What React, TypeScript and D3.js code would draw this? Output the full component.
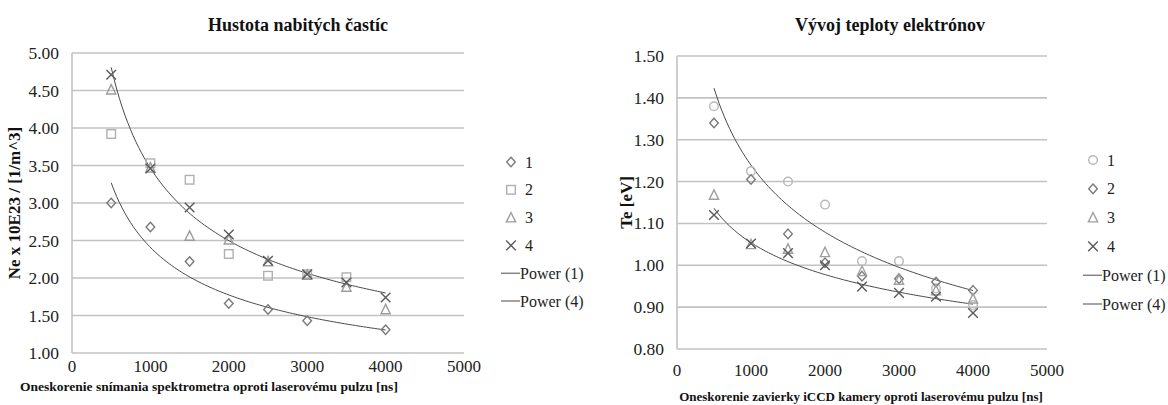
import React from "react";
import * as d3 from "d3";

const X_VALUES = [500, 1000, 1500, 2000, 2500, 3000, 3500, 4000];

// Left chart: Hustota nabitých častíc
const NE_TITLE = "Hustota nabitých častíc";
const NE_YLABEL = "Ne x 10E23 / [1/m^3]";
const NE_XLABEL = "Oneskorenie snímania spektrometra oproti laserovému pulzu [ns]";
const neS1 = [3.0, 2.68, 2.22, 1.66, 1.58, 1.43, null, 1.31];
const neS2 = [3.92, 3.53, 3.31, 2.32, 2.03, 2.05, 2.01, null];
const neS3 = [4.51, 3.47, 2.56, 2.51, 2.22, 2.04, 1.88, 1.58];
const neS4 = [4.71, 3.46, 2.94, 2.58, 2.23, 2.05, 1.94, 1.74];
const NE_YTICKS = [1.0, 1.5, 2.0, 2.5, 3.0, 3.5, 4.0, 4.5, 5.0];

// Right chart: Vývoj teploty elektrónov
const TE_TITLE = "Vývoj teploty elektrónov";
const TE_YLABEL = "Te [eV]";
const TE_XLABEL = "Oneskorenie zavierky iCCD kamery oproti laserovému pulzu [ns]";
const teS1 = [1.38, 1.225, 1.2, 1.145, 1.01, 1.01, 0.945, 0.905];
const teS2 = [1.34, 1.205, 1.075, 1.006, 0.974, 0.968, 0.96, 0.94];
const teS3 = [1.168, 1.05, 1.039, 1.031, 0.986, 0.965, 0.94, 0.92];
const teS4 = [1.12, 1.052, 1.029, 1.0, 0.949, 0.934, 0.925, 0.886];
const TE_YTICKS = [0.8, 0.9, 1.0, 1.1, 1.2, 1.3, 1.4, 1.5];

const X_TICKS = [0, 1000, 2000, 3000, 4000, 5000];
const SERIES_NAMES = ["1", "2", "3", "4"];
const TREND_NAMES = ["Power (1)", "Power (4)"];

const FONT = "'Liberation Serif', 'Times New Roman', serif";
const GRID = "#c2c2c2";
const TREND = "#4a4a4a";

type Shape = "diamond" | "square" | "triangle" | "x" | "circle";

function Marker({ shape, x, y, color }: { shape: Shape; x: number; y: number; color: string }) {
  const s = 4.3;
  const sw = 1.4;
  if (shape === "diamond")
    return <path d={`M${x},${y - s - 0.5}L${x + s},${y}L${x},${y + s + 0.5}L${x - s},${y}Z`} fill="none" stroke={color} strokeWidth={sw} />;
  if (shape === "square")
    return <rect x={x - s} y={y - s} width={2 * s} height={2 * s} fill="none" stroke={color} strokeWidth={sw} />;
  if (shape === "triangle")
    return <path d={`M${x},${y - s - 0.8}L${x + s + 0.3},${y + s}L${x - s - 0.3},${y + s}Z`} fill="none" stroke={color} strokeWidth={sw} />;
  if (shape === "circle")
    return <circle cx={x} cy={y} r={s} fill="none" stroke={color} strokeWidth={sw} />;
  return (
    <path d={`M${x - s - 0.5},${y - s - 0.5}L${x + s + 0.5},${y + s + 0.5}M${x + s + 0.5},${y - s - 0.5}L${x - s - 0.5},${y + s + 0.5}`} stroke={color} strokeWidth={sw} fill="none" />
  );
}

function powerFit(xs: number[], ys: (number | null)[]) {
  const pts = xs.map((x, i) => [x, ys[i]] as [number, number | null]).filter((p) => p[1] != null) as [number, number][];
  const lx = pts.map((p) => Math.log(p[0]));
  const ly = pts.map((p) => Math.log(p[1]));
  const mx = d3.mean(lx) as number;
  const my = d3.mean(ly) as number;
  let sxy = 0, sxx = 0;
  lx.forEach((v, i) => { sxy += (v - mx) * (ly[i] - my); sxx += (v - mx) * (v - mx); });
  const b = sxy / sxx;
  const a = Math.exp(my - b * mx);
  const x0 = d3.min(pts, (p) => p[0]) as number;
  const x1 = d3.max(pts, (p) => p[0]) as number;
  return d3.range(0, 101).map((i) => { const x = x0 + ((x1 - x0) * i) / 100; return [x, a * Math.pow(x, b)] as [number, number]; });
}

type ChartProps = {
  left: number; right: number; top: number; bottom: number;
  yDomain: [number, number]; yTicks: number[];
  series: { data: (number | null)[]; shape: Shape; color: string }[];
  trends: (number | null)[][];
  title: string; titleX: number;
  ylabel: string; ylabelX: number;
  xlabel: string; xlabelX: number; xlabelY: number; xlabelSize: number;
  xtickY: number;
  legendX: number; legendY: number; legendStep: number;
};

function Chart(p: ChartProps) {
  const x = d3.scaleLinear().domain([0, 5000]).range([p.left, p.right]);
  const y = d3.scaleLinear().domain(p.yDomain).range([p.bottom, p.top]);
  const line = d3.line<[number, number]>().x((d) => x(d[0])).y((d) => y(d[1]));
  const cy = (p.top + p.bottom) / 2;
  return (
    <g fontFamily={FONT}>
      <text x={p.titleX} y={31} textAnchor="middle" fontWeight="bold" fontSize={18} fill="#111">{p.title}</text>
      {p.yTicks.map((t) => (
        <g key={t}>
          <line x1={p.left} x2={p.right} y1={y(t)} y2={y(t)} stroke={GRID} strokeWidth={1.6} />
          <text x={p.left - 13} y={y(t) + 6} textAnchor="end" fontSize={17.5} fill="#222">{t.toFixed(2)}</text>
        </g>
      ))}
      <line x1={p.left} x2={p.left} y1={p.top} y2={p.bottom} stroke={GRID} strokeWidth={1.6} />
      {X_TICKS.map((t) => (
        <text key={t} x={x(t)} y={p.xtickY} textAnchor="middle" fontSize={17} fill="#222">{t}</text>
      ))}
      {p.trends.map((tr, i) => (
        <path key={i} d={line(powerFit(X_VALUES, tr)) || ""} fill="none" stroke={TREND} strokeWidth={1} />
      ))}
      {p.series.map((s, si) => (
        <g key={si}>
          {s.data.map((v, i) => (v == null ? null : <Marker key={i} shape={s.shape} x={x(X_VALUES[i])} y={y(v)} color={s.color} />))}
        </g>
      ))}
      <text transform={`translate(${p.ylabelX},${cy}) rotate(-90)`} textAnchor="middle" fontWeight="bold" fontSize={17} fill="#111">{p.ylabel}</text>
      <text x={p.xlabelX} y={p.xlabelY} textAnchor="middle" fontWeight="bold" fontSize={p.xlabelSize} fill="#111">{p.xlabel}</text>
      {p.series.map((s, i) => (
        <g key={"l" + i}>
          <Marker shape={s.shape} x={p.legendX} y={p.legendY + i * p.legendStep} color={s.color} />
          <text x={p.legendX + 14} y={p.legendY + i * p.legendStep + 5.5} fontSize={16} fill="#222">{SERIES_NAMES[i]}</text>
        </g>
      ))}
      {TREND_NAMES.map((n, i) => {
        const yy = p.legendY + (4 + i) * p.legendStep;
        return (
          <g key={"t" + i}>
            <line x1={p.legendX - 10} x2={p.legendX + 9} y1={yy} y2={yy} stroke={TREND} strokeWidth={1} />
            <text x={p.legendX + 9} y={yy + 5.5} fontSize={16} fill="#222">{n}</text>
          </g>
        );
      })}
    </g>
  );
}

export default function App() {
  return (
    <svg width={1168} height={405} style={{ position: "absolute", left: 0, top: 0, background: "#fff" }}>
      <Chart
        left={72} right={464} top={53} bottom={353}
        yDomain={[1, 5]} yTicks={NE_YTICKS}
        series={[
          { data: neS1, shape: "diamond", color: "#7a7a7a" },
          { data: neS2, shape: "square", color: "#b0b0b0" },
          { data: neS3, shape: "triangle", color: "#9c9c9c" },
          { data: neS4, shape: "x", color: "#5a5a5a" },
        ]}
        trends={[neS1, neS4]}
        title={NE_TITLE} titleX={298}
        ylabel={NE_YLABEL} ylabelX={20}
        xlabel={NE_XLABEL} xlabelX={209} xlabelY={391} xlabelSize={13.5}
        xtickY={372}
        legendX={511} legendY={162} legendStep={27.8}
      />
      <Chart
        left={677} right={1047} top={56} bottom={349}
        yDomain={[0.8, 1.5]} yTicks={TE_YTICKS}
        series={[
          { data: teS1, shape: "circle", color: "#b8b8b8" },
          { data: teS2, shape: "diamond", color: "#7a7a7a" },
          { data: teS3, shape: "triangle", color: "#a0a0a0" },
          { data: teS4, shape: "x", color: "#5a5a5a" },
        ]}
        trends={[teS1, teS4]}
        title={TE_TITLE} titleX={890}
        ylabel={TE_YLABEL} ylabelX={632}
        xlabel={TE_XLABEL} xlabelX={861} xlabelY={401} xlabelSize={13}
        xtickY={376}
        legendX={1093} legendY={160} legendStep={28.8}
      />
    </svg>
  );
}
